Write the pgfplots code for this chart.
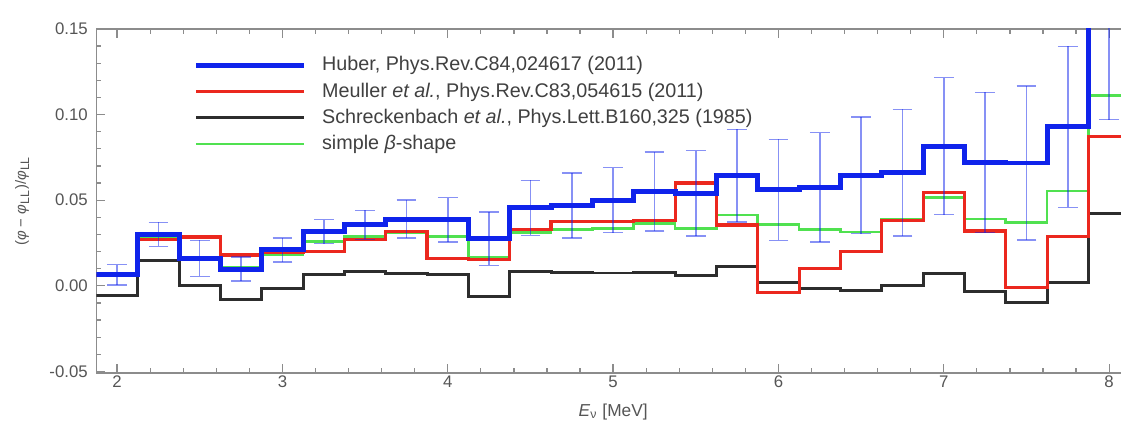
\documentclass[border=0pt]{standalone}
\usepackage{fontspec}
\setmainfont{Liberation Sans}
\usepackage{pgfplots}
\usepackage{pgfplotstable}
\pgfplotsset{compat=1.18}

\definecolor{cblue}{RGB}{15,35,235}
\definecolor{cred}{RGB}{235,40,30}
\definecolor{cblack}{RGB}{45,45,45}
\definecolor{cgreen}{RGB}{80,225,80}
\definecolor{cframe}{RGB}{140,140,140}
\definecolor{ctext}{RGB}{85,85,85}

\pgfplotstableread{
x hub mue sch beta err
1.875 0.0064 0.0060 -0.0058 0.0060 0.0060
2.125 0.0300 0.0270 0.0148 0.0280 0.0070
2.375 0.0160 0.0285 0.0004 0.0160 0.0105
2.625 0.0098 0.0180 -0.0077 0.0105 0.0070
2.875 0.0210 0.0198 -0.0015 0.0180 0.0070
3.125 0.0317 0.0200 0.0065 0.0260 0.0070
3.375 0.0356 0.0270 0.0083 0.0290 0.0085
3.625 0.0390 0.0315 0.0072 0.0310 0.0110
3.875 0.0385 0.0160 0.0068 0.0290 0.0130
4.125 0.0275 0.0155 -0.0062 0.0165 0.0155
4.375 0.0455 0.0330 0.0083 0.0310 0.0160
4.625 0.0468 0.0375 0.0078 0.0330 0.0190
4.875 0.0500 0.0375 0.0075 0.0336 0.0190
5.125 0.0550 0.0380 0.0080 0.0365 0.0230
5.375 0.0540 0.0600 0.0062 0.0336 0.0250
5.625 0.0643 0.0355 0.0112 0.0414 0.0270
5.875 0.0560 -0.0040 0.0022 0.0356 0.0295
6.125 0.0575 0.0100 -0.0013 0.0327 0.0320
6.375 0.0645 0.0200 -0.0030 0.0315 0.0340
6.625 0.0660 0.0380 0.0000 0.0390 0.0370
6.875 0.0815 0.0545 0.0074 0.0517 0.0400
7.125 0.0720 0.0320 -0.0032 0.0390 0.0410
7.375 0.0717 -0.0008 -0.0099 0.0370 0.0450
7.625 0.0928 0.0290 0.0017 0.0553 0.0470
7.875 0.1550 0.0870 0.0424 0.1110 0.0580
8.125 0.1550 0.0870 0.0424 0.1110 0.0000
}\spectra

\begin{document}
\begin{tikzpicture}
\useasboundingbox (-39.05pt,-21.5pt) rectangle (414.95pt,151pt);
\begin{axis}[
  at={(0,0)}, anchor=south west,
  scale only axis, width=418.5pt, height=139.3pt,
  xmin=1.875, xmax=8.125, ymin=-0.0508, ymax=0.15,
  xtick={2,3,4,5,6,7,8},
  ytick={-0.05,0,0.05,0.10,0.15},
  minor x tick num=4, minor y tick num=4,
  tick align=inside,
  major tick length=3.5pt, minor tick length=2pt,
  axis line style={cframe, line width=0.6pt},
  every tick/.style={cframe, line width=0.5pt},
  /pgf/number format/assume math mode=true,
  ticklabel style={font=\fontsize{6.8}{8}\selectfont, text=ctext},
  xticklabel style={inner sep=1pt},
  yticklabel style={/pgf/number format/.cd, fixed, fixed zerofill, precision=2},
  xlabel={\textit{E}\textsubscript{ν} [MeV]},
  ylabel={(\textit{φ} − \textit{φ}\textsubscript{LL})/\textit{φ}\textsubscript{LL}},
  every axis x label/.style={at={(axis description cs:0.5,-0.1134)}, anchor=center,
    font=\fontsize{7}{8.4}\selectfont, text=ctext},
  every axis y label/.style={at={(axis description cs:-0.0719,0.5)}, rotate=90, anchor=center,
    font=\fontsize{6}{7.2}\selectfont, text=ctext},
  legend image code/.code={\draw[#1] (0pt,0pt) -- (43.7pt,0pt);},
  reverse legend,
  legend cell align=left,
  legend style={draw=none, fill=none, inner sep=0pt,
    at={(axis description cs:0.0939,0.9297)}, anchor=north west,
    font=\fontsize{8}{9.6}\selectfont, text=black!75,
    row sep=0.9pt, column sep=3.2pt,
    nodes={inner xsep=3pt, inner ysep=1pt, text height=6pt, text depth=1.7pt}},
]
\addplot[const plot, color=cgreen, line width=1.1pt] table[x=x, y=beta] {\spectra};
\addlegendentry{simple \textit{β}-shape}
\addplot[const plot, color=cblack, line width=1.2pt] table[x=x, y=sch] {\spectra};
\addlegendentry{Schreckenbach \textit{et al.}, Phys.Lett.B160,325 (1985)}
\addplot[const plot, color=cred, line width=1.3pt] table[x=x, y=mue] {\spectra};
\addlegendentry{Meuller \textit{et al.}, Phys.Rev.C83,054615 (2011)}
\addplot[const plot, color=cblue, line width=2pt] table[x=x, y=hub] {\spectra};
\addlegendentry{Huber, Phys.Rev.C84,024617 (2011)}
\addplot[draw=none, mark=none, forget plot,
  skip coords between index={25}{26},
  error bars/.cd, y dir=both, y explicit,
  error mark=-,
  error bar style={draw=cblue, opacity=0.5, line width=0.6pt},
  error mark options={draw=cblue, opacity=0.5, line width=0.6pt, mark size=4pt, rotate=90}]
  table[x expr=\thisrow{x}+0.125, y=hub, y error=err] {\spectra};
\end{axis}
\end{tikzpicture}
\end{document}
